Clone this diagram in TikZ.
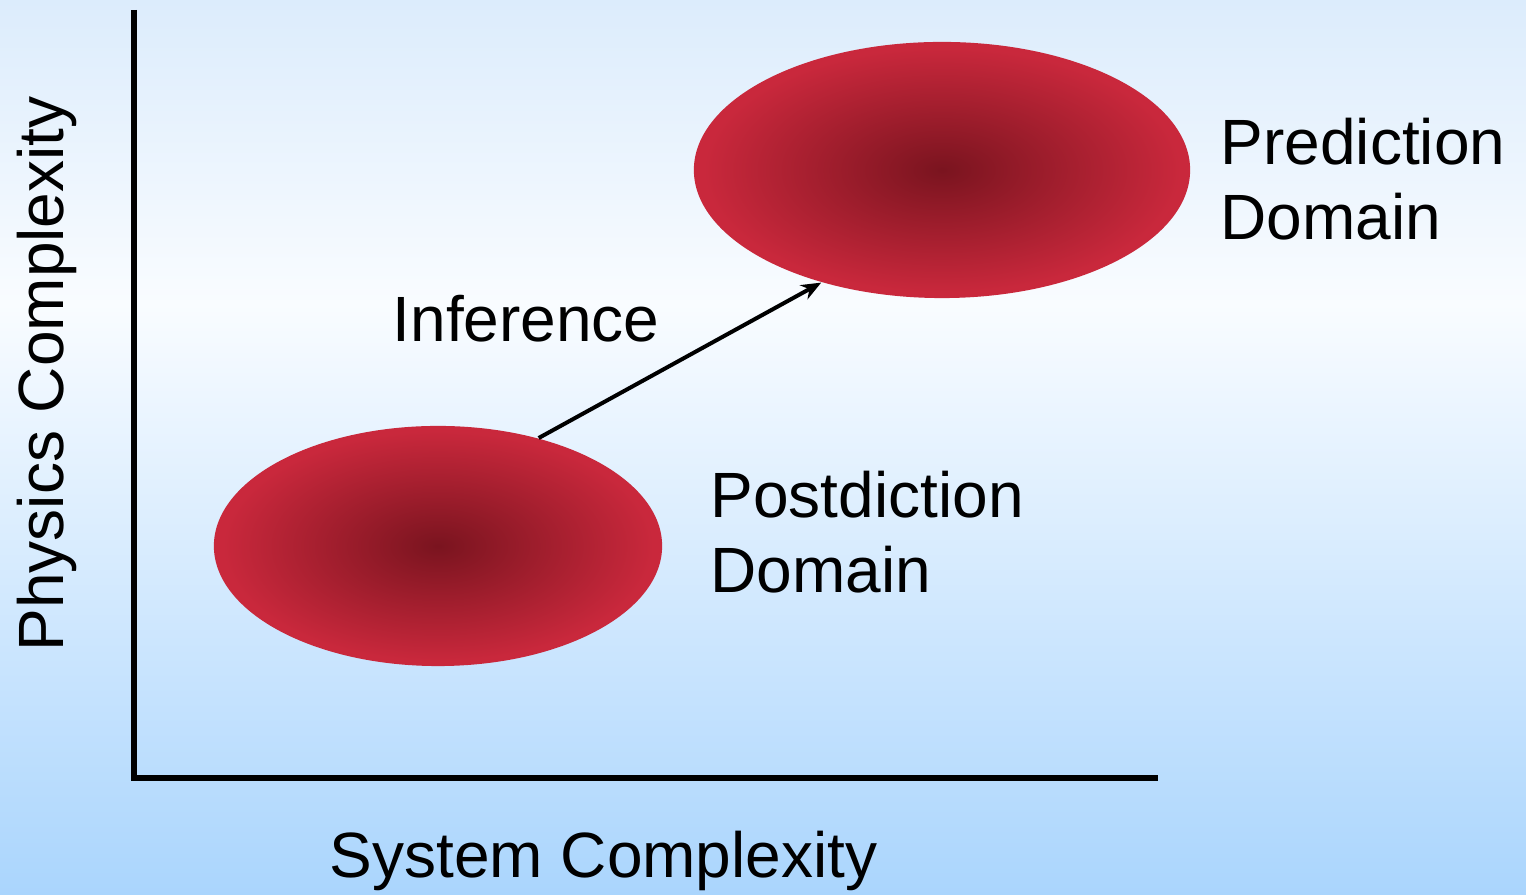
\documentclass[tikz,border=0pt]{standalone}
\usepackage{fontspec}
\setmainfont{Liberation Sans}
\usetikzlibrary{shapes.geometric,arrows.meta}
\definecolor{bgtop}{RGB}{220,236,252}
\definecolor{bgmid}{RGB}{249,252,255}
\definecolor{bgbot}{RGB}{170,213,253}
\definecolor{blobcore}{RGB}{122,20,31}
\definecolor{blobedge}{RGB}{201,40,60}
\pgfdeclareradialshading{blobfade}{\pgfpoint{0bp}{0bp}}{color(0bp)=(blobcore); color(24bp)=(blobedge); color(50bp)=(blobedge)}
\pgfdeclareverticalshading{skyfade}{100bp}{color(0bp)=(bgbot); color(25bp)=(bgbot); color(58bp)=(bgmid); color(75bp)=(bgtop); color(100bp)=(bgtop)}
\newcommand{\domainblob}[4]{
	\node [blob, minimum width=#3, minimum height=#4] (#1) at (#2) {};}

\begin{document}
\begin{tikzpicture}[x=0.01cm,y=-0.01cm,>={Stealth[length=0.2cm,width=0.16cm]},
	blob/.style={ellipse, inner sep=0pt, shading=blobfade},
	lbl/.style={inner sep=0pt, font=\fontsize{18.2}{21.6}\selectfont, align=left}]
	\shade [shading=skyfade] (0,0) rectangle (1526,895);
	\useasboundingbox (0,0) rectangle (1526,895);
	\coordinate (ytop) at (134,10);
	\coordinate (orig) at (134,778);
	\coordinate (xend) at (1158,778);
	\draw [line width=0.055cm] (ytop) -- (orig) -- (xend);
	\domainblob{post}{438,546}{4.48cm}{2.40cm}
	\domainblob{pred}{942,170}{4.96cm}{2.56cm}
	\draw [->, line width=0.04cm] (post.47) -- (pred.223);
	\node [lbl, anchor=base west] (inflbl) at (392,342) {Inference};
	\node [lbl, anchor=base west] (postlbl) at (710,593) {Postdiction\\Domain};
	\node [lbl, anchor=base west] (predlbl) at (1220,240) {Prediction\\Domain};
	\node [lbl, anchor=base west] (xlbl) at (329,878) {System Complexity};
	\node [lbl, anchor=base west, rotate=90] (ylbl) at (64,652) {Physics Complexity};
\end{tikzpicture}
\end{document}
